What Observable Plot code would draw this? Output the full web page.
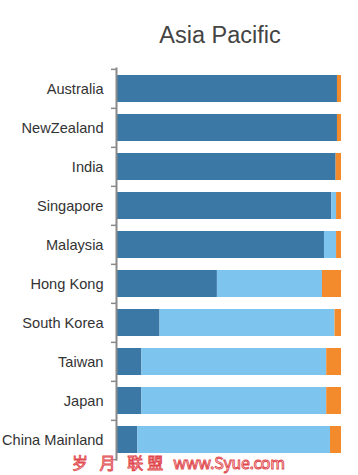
<!DOCTYPE html>
<html>
<head>
<meta charset="utf-8">
<script src="https://cdn.jsdelivr.net/npm/d3@7"></script>
<script src="https://cdn.jsdelivr.net/npm/@observablehq/plot@0.6"></script>
<style>
  html, body { margin: 0; padding: 0; background: #fff; }
  #wrap { position: relative; width: 358px; height: 475px; overflow: hidden; }
  #title { height: 50px; box-sizing: border-box; padding-top: 22px; padding-left: 82px; text-align: center;
           font-family: "Liberation Sans", Arial, sans-serif; font-size: 23.5px; color: #444; line-height: 26px; }
  #mark { position: absolute; left: 72px; top: 453px; font-family: "Noto Sans CJK SC", "Liberation Sans", sans-serif;
          font-size: 16px; line-height: 18px; color: #fff; -webkit-text-stroke: 0.9px #e0474c; white-space: pre; }
  #mark .cn { letter-spacing: 4px; }
  #mark .url { margin-left: 6px; letter-spacing: -0.3px; }
</style>
</head>
<body>
<div id="wrap">
  <div id="title">Asia Pacific</div>
  <div id="chart"></div>
  <div id="mark"><span class="cn">岁 月 联盟</span><span class="url">www.Syue.com</span></div>
</div>
<script>
const countries = ["Australia", "NewZealand", "India", "Singapore", "Malaysia", "Hong Kong", "South Korea", "Taiwan", "Japan", "China Mainland"];
const seriesNames = ["Segment A", "Segment B", "Segment C"];
const segA = [98.2, 98.2, 97.6, 95.7, 92.4, 44.6, 19.0, 10.9, 10.9, 9.1];
const segB = [0.0, 0.0, 0.0, 2.1, 5.4, 46.9, 78.1, 82.5, 82.5, 86.0];
const segC = [1.8, 1.8, 2.4, 2.2, 2.2, 8.5, 2.9, 6.6, 6.6, 4.9];
const colors = ["#3b78a5", "#7dc4ef", "#f38a2c"];

const rows = [];
countries.forEach((c, i) => {
  [segA, segB, segC].forEach((s, k) => rows.push({country: c, series: seriesNames[k], value: s[i]}));
});

const height = 425, marginTop = 17.5, marginBottom = 14.5;
const step = (height - marginTop - marginBottom) / countries.length;

const chart = Plot.plot({
  width: 358,
  height,
  marginTop,
  marginBottom,
  marginLeft: 117,
  marginRight: 17,
  style: {fontFamily: "'Liberation Sans', Arial, sans-serif", fontSize: "14.6px", color: "#333", background: "#fff"},
  x: {axis: null, domain: [0, 100]},
  y: {domain: countries, padding: 0.3, paddingOuter: 0.15, label: null},
  color: {domain: seriesNames, range: colors},
  marks: [
    Plot.barX(rows, Plot.stackX({x: "value", y: "country", fill: "series", order: seriesNames})),
    Plot.ruleX([0], {stroke: "#8a8a8a", strokeWidth: 2, dx: -1}),
    Plot.axisY({tickSize: 0, tickPadding: 14, fill: "#333", fontSize: 14.6}),
    Plot.axisY({text: null, tickSize: 6, tickPadding: 0, dy: -step / 2, stroke: "#8a8a8a", strokeWidth: 1.5, label: null}),
    Plot.axisY(countries.slice(-1), {text: null, tickSize: 6, dy: step / 2, stroke: "#8a8a8a", strokeWidth: 1.5, label: null})
  ]
});
document.getElementById("chart").appendChild(chart);
</script>
</body>
</html>
